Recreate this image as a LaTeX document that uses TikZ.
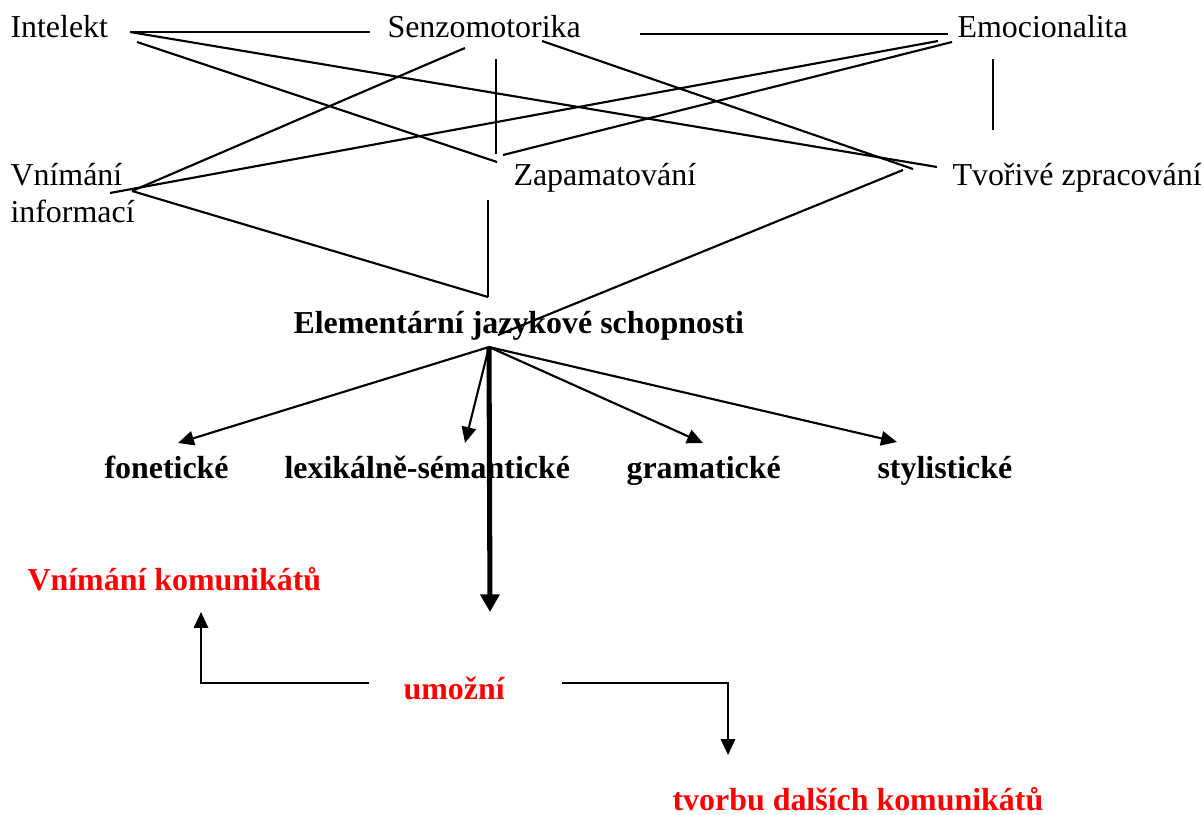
\documentclass[tikz,border=0pt]{standalone}
\usepackage{fontspec}
\setmainfont{Liberation Serif}
\usetikzlibrary{arrows.meta}

\begin{document}
\begin{tikzpicture}[x=0.3759pt, y=-0.3759pt,
    lbl/.style={anchor=base west, inner sep=0pt, font=\fontsize{12}{13.9}\selectfont},
    blbl/.style={lbl, font=\fontsize{12}{13.9}\selectfont\bfseries},
    rlbl/.style={blbl, text=red},
    link/.style={line width=0.8pt},
    arr/.style={link, -{Triangle[length=6pt, width=5.4pt]}},
    bigarr/.style={line width=1.9pt, -{Triangle[length=6.6pt, width=7pt]}}]
    \useasboundingbox (0, 0) rectangle (1204, 814) ;
    % upper row
    \node[lbl] (intelekt) at (10, 37) {Intelekt} ;
    \node[lbl] (senzo) at (387, 37) {Senzomotorika} ;
    \node[lbl] (emoce) at (957, 37) {Emocionalita} ;
    \node[lbl, align=left] (vnimani) at (10, 222) {Vnímání\\informací} ;
    \node[lbl] (zapam) at (513, 185) {Zapamatování} ;
    \node[lbl] (tvorive) at (952, 185) {Tvořivé zpracování} ;
    % line ends
    \coordinate (iA) at (130, 32) ;
    \coordinate (iB) at (137, 42) ;
    \coordinate (sA) at (370, 32) ;
    \coordinate (sB) at (465, 48) ;
    \coordinate (sC) at (542, 41) ;
    \coordinate (sD) at (496, 59) ;
    \coordinate (sE) at (640, 34) ;
    \coordinate (eA) at (948, 34) ;
    \coordinate (eB) at (938, 41) ;
    \coordinate (eC) at (952, 42) ;
    \coordinate (eD) at (993, 59) ;
    \coordinate (vA) at (110, 193) ;
    \coordinate (vB) at (132, 191) ;
    \coordinate (zA) at (497, 162) ;
    \coordinate (zB) at (496, 154) ;
    \coordinate (zC) at (503, 155) ;
    \coordinate (zD) at (488, 200) ;
    \coordinate (tA) at (937, 167) ;
    \coordinate (tB) at (913, 169) ;
    \coordinate (tC) at (993, 130) ;
    \coordinate (tD) at (903, 170) ;
    \coordinate (elA) at (488, 297) ;
    \coordinate (elB) at (498, 335) ;
    \draw[link] (iA) -- (sA) ;
    \draw[link] (iA) -- (tA) ;
    \draw[link] (iB) -- (zA) ;
    \draw[link] (sB) -- (vB) ;
    \draw[link] (sC) -- (tB) ;
    \draw[link] (sD) -- (zB) ;
    \draw[link] (sE) -- (eA) ;
    \draw[link] (vA) -- (eB) ;
    \draw[link] (zC) -- (eC) ;
    \draw[link] (eD) -- (tC) ;
    \draw[link] (vB) -- (elA) ;
    \draw[link] (zD) -- (elA) ;
    \draw[link] (tD) -- (elB) ;
    % middle
    \node[blbl] (elem) at (293, 333) {Elementární jazykové schopnosti} ;
    \node[blbl] (fon) at (104, 478) {fonetické} ;
    \node[blbl] (lex) at (284, 478) {lexikálně-sémantické} ;
    \node[blbl] (gram) at (626, 478) {gramatické} ;
    \node[blbl] (styl) at (877, 478) {stylistické} ;
    \coordinate (hub) at (489, 347) ;
    \coordinate (fonT) at (178, 443) ;
    \coordinate (lexT) at (465, 443) ;
    \coordinate (gramT) at (703, 443) ;
    \coordinate (stylT) at (897, 442) ;
    \draw[arr] (hub) -- (fonT) ;
    \draw[arr] (hub) -- (lexT) ;
    \draw[arr] (hub) -- (gramT) ;
    \draw[arr] (hub) -- (stylT) ;
    % bottom
    \node[rlbl] (vkom) at (27, 590) {Vnímání komunikátů} ;
    \node[rlbl] (umozni) at (403, 699) {umožní} ;
    \node[rlbl] (tvorba) at (672, 810) {tvorbu dalších komunikátů} ;
    \coordinate (downT) at (490, 612) ;
    \coordinate (uL) at (369, 683) ;
    \coordinate (uR) at (562, 683) ;
    \coordinate (vkomT) at (201, 612) ;
    \coordinate (tvorbaT) at (728, 755) ;
    \draw[bigarr] (hub) -- (downT) ;
    \draw[arr] (uL) -| (vkomT) ;
    \draw[arr] (uR) -| (tvorbaT) ;
\end{tikzpicture}
\end{document}
